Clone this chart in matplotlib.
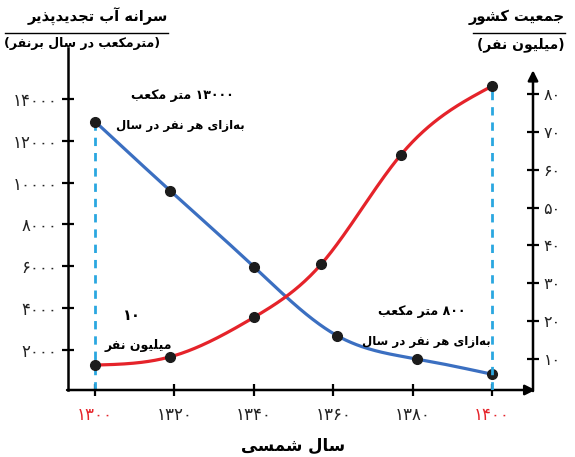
import numpy as np
import matplotlib.pyplot as plt
from matplotlib.lines import Line2D

plt.rcParams['font.family'] = ['DejaVu Sans']

# داده‌ها (خوانده شده از نمودار)
years_water = [1300, 1319, 1340, 1361, 1381, 1400]
water = [12920, 9600, 5980, 2680, 1570, 840]          # مترمکعب بر نفر در سال
years_pop = [1300, 1319, 1340, 1357, 1377, 1400]
pop = [8.4, 10.6, 21.0, 35.1, 63.9, 82.1]             # میلیون نفر
x_ticks = [1300, 1320, 1340, 1360, 1380, 1400]
left_ticks = [2000, 4000, 6000, 8000, 10000, 12000, 14000]
right_ticks = [10, 20, 30, 40, 50, 60, 70, 80]

W, H = 575, 457
BLUE = '#3b6fc1'
RED = '#e5232a'
DASH = '#2aa7e0'
INK = '#1c1c1c'

# شکل‌دهی ساده حروف فارسی (بدون نیاز به کتابخانه بیرونی)
FORMS = {
    'ا': ('\uFE8D', '\uFE8E', None, None),
    'آ': ('\uFE81', '\uFE82', None, None),
    'ب': ('\uFE8F', '\uFE90', '\uFE91', '\uFE92'),
    'پ': ('\uFB56', '\uFB57', '\uFB58', '\uFB59'),
    'ت': ('\uFE95', '\uFE96', '\uFE97', '\uFE98'),
    'ج': ('\uFE9D', '\uFE9E', '\uFE9F', '\uFEA0'),
    'د': ('\uFEA9', '\uFEAA', None, None),
    'ذ': ('\uFEAB', '\uFEAC', None, None),
    'ر': ('\uFEAD', '\uFEAE', None, None),
    'ز': ('\uFEAF', '\uFEB0', None, None),
    'س': ('\uFEB1', '\uFEB2', '\uFEB3', '\uFEB4'),
    'ش': ('\uFEB5', '\uFEB6', '\uFEB7', '\uFEB8'),
    'ع': ('\uFEC9', '\uFECA', '\uFECB', '\uFECC'),
    'ف': ('\uFED1', '\uFED2', '\uFED3', '\uFED4'),
    'ک': ('\uFB8E', '\uFB8F', '\uFB90', '\uFB91'),
    'ل': ('\uFEDD', '\uFEDE', '\uFEDF', '\uFEE0'),
    'م': ('\uFEE1', '\uFEE2', '\uFEE3', '\uFEE4'),
    'ن': ('\uFEE5', '\uFEE6', '\uFEE7', '\uFEE8'),
    'ه': ('\uFEE9', '\uFEEA', '\uFEEB', '\uFEEC'),
    'و': ('\uFEED', '\uFEEE', None, None),
    'ی': ('\uFBFC', '\uFBFD', '\uFBFE', '\uFBFF'),
}


def fa(text):
    out = []
    for i, ch in enumerate(text):
        if ch not in FORMS:
            if ch != '\u200c':
                out.append(ch)
            continue
        prev = text[i - 1] if i > 0 else ''
        nxt = text[i + 1] if i + 1 < len(text) else ''
        jp = prev in FORMS and FORMS[prev][2] is not None
        jn = FORMS[ch][2] is not None and nxt in FORMS
        iso, fin, ini, med = FORMS[ch]
        if jp and jn:
            out.append(med)
        elif jp:
            out.append(fin)
        elif jn:
            out.append(ini)
        else:
            out.append(iso)
    return ''.join(out)[::-1]


def fa_num(n):
    return str(n).translate(str.maketrans('0123456789', '۰۱۲۳۴۵۶۷۸۹'))


def smooth(xs, ys, n=300):
    # اسپلاین مکعبی طبیعی
    xs = np.asarray(xs, float)
    ys = np.asarray(ys, float)
    k = len(xs)
    h = np.diff(xs)
    A = np.zeros((k, k))
    b = np.zeros(k)
    A[0, 0] = A[-1, -1] = 1
    for i in range(1, k - 1):
        A[i, i - 1] = h[i - 1]
        A[i, i] = 2 * (h[i - 1] + h[i])
        A[i, i + 1] = h[i]
        b[i] = 6 * ((ys[i + 1] - ys[i]) / h[i] - (ys[i] - ys[i - 1]) / h[i - 1])
    M = np.linalg.solve(A, b)
    xx = np.linspace(xs[0], xs[-1], n)
    idx = np.clip(np.searchsorted(xs, xx) - 1, 0, k - 2)
    x0, x1 = xs[idx], xs[idx + 1]
    hh = x1 - x0
    t0, t1 = x1 - xx, xx - x0
    yy = (M[idx] * t0 ** 3 + M[idx + 1] * t1 ** 3) / (6 * hh) \
        + (ys[idx] / hh - M[idx] * hh / 6) * t0 \
        + (ys[idx + 1] / hh - M[idx + 1] * hh / 6) * t1
    return xx, yy


def px(x, y):
    return x / W, 1 - y / H


fig = plt.figure(figsize=(W / 100, H / 100), dpi=100)
ax = fig.add_axes([68 / W, 1 - 390 / H, (533 - 68) / W, (390 - 48) / H])
ax2 = ax.twinx()

ax.set_xlim(1293.2, 1410.3)
ax.set_ylim(86, 16434)
ax2.set_ylim(1.82, 92.15)

# منحنی‌ها
xs, ys = smooth(years_water, water)
ax.plot(xs, ys, color=BLUE, lw=2.3, zorder=3)
ax.plot(years_water, water, 'o', color=INK, ms=7, zorder=4)
ax.vlines(years_water[0], ax.get_ylim()[0], water[0], colors=DASH, lw=2,
          linestyles=(0, (3, 2.5)), zorder=2)

xs, ys = smooth(years_pop, pop)
ax2.plot(xs, ys, color=RED, lw=2.3, zorder=3)
ax2.plot(years_pop, pop, 'o', color=INK, ms=7, zorder=4)
ax2.vlines(years_pop[-1], ax2.get_ylim()[0], pop[-1], colors=DASH, lw=2,
           linestyles=(0, (3, 2.5)), zorder=2)

# محورها
for a in (ax, ax2):
    for s in a.spines.values():
        s.set_visible(False)
ax.spines['left'].set_visible(True)
ax.spines['left'].set_linewidth(1.8)

ax.annotate('', xy=(1.005, 0), xytext=(-0.002, 0), xycoords='axes fraction',
            arrowprops=dict(arrowstyle='-|>,head_length=0.6,head_width=0.3',
                            color='black', lw=1.8, shrinkA=0, shrinkB=0))
ax2.annotate('', xy=(1, 0.935), xytext=(1, -0.003), xycoords='axes fraction',
             arrowprops=dict(arrowstyle='-|>,head_length=0.6,head_width=0.3',
                             color='black', lw=1.8, shrinkA=0, shrinkB=0))

ax.set_xticks(x_ticks)
ax.set_xticklabels([fa_num(v) for v in x_ticks])
ax.set_yticks(left_ticks)
ax.set_yticklabels([fa_num(v) for v in left_ticks])
ax2.set_yticks(right_ticks)
ax2.set_yticklabels([fa_num(v) for v in right_ticks])

ax.tick_params(axis='x', direction='inout', length=9, width=1.6, pad=7,
               labelsize=12, labelcolor='#222222')
ax.tick_params(axis='y', direction='inout', length=9, width=1.6, pad=3,
               labelsize=12, labelcolor='#222222')
ax2.tick_params(axis='y', direction='inout', length=9, width=1.6, pad=3,
                labelsize=11.5, labelcolor='#222222')
for i in (0, len(x_ticks) - 1):
    ax.get_xticklabels()[i].set_color(RED)

# عنوان‌ها
fig.text(*px(168, 17), fa('سرانه آب تجدیدپذیر'), ha='right', va='center',
         fontsize=10.5, fontweight='bold')
fig.text(*px(160, 44), '(' + fa('مترمکعب در سال برنفر') + ')', ha='right',
         va='center', fontsize=9, fontweight='bold')
fig.add_artist(Line2D([5 / W, 168 / W], [1 - 33 / H] * 2, color='black', lw=1))

fig.text(*px(565, 17), fa('جمعیت کشور'), ha='right', va='center',
         fontsize=10.5, fontweight='bold')
fig.text(*px(565, 45), '(' + fa('میلیون نفر') + ')', ha='right', va='center',
         fontsize=10, fontweight='bold')
fig.add_artist(Line2D([473 / W, 565 / W], [1 - 33 / H] * 2, color='black', lw=1))

fig.text(*px(293, 446), fa('سال شمسی'), ha='center', va='center',
         fontsize=12, fontweight='bold')

# یادداشت‌ها
fig.text(*px(182, 95), fa('متر مکعب') + ' ' + fa_num(13000), ha='center',
         va='center', fontsize=9, fontweight='bold')
fig.text(*px(180, 125), fa('به\u200cازای هر نفر در سال'), ha='center',
         va='center', fontsize=8.5, fontweight='bold')
fig.text(*px(132, 315), fa_num(10), ha='center', va='center',
         fontsize=10.5, fontweight='bold')
fig.text(*px(138, 345), fa('میلیون نفر'), ha='center', va='center',
         fontsize=9, fontweight='bold')
fig.text(*px(422, 312), fa('متر مکعب') + ' ' + fa_num(800), ha='center',
         va='center', fontsize=9, fontweight='bold')
fig.text(*px(426, 342), fa('به\u200cازای هر نفر در سال'), ha='center',
         va='center', fontsize=8.5, fontweight='bold')

plt.savefig('out.png', dpi=100)
